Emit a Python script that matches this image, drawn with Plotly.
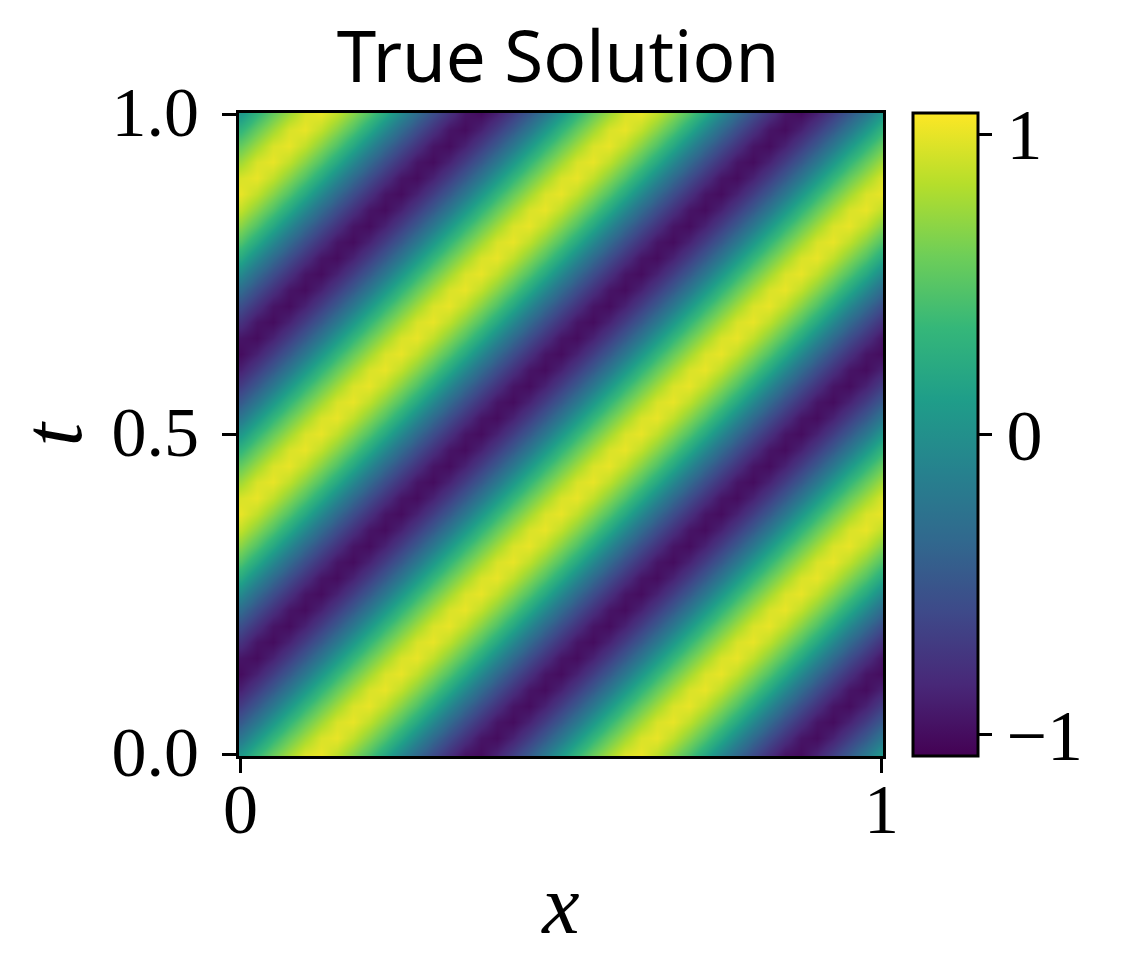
import plotly.graph_objects as go

# grid, every 0.025 in x and t
x_values = [0.0, 0.025, 0.05, 0.075, 0.1, 0.125, 0.15, 0.175, 0.2, 0.225, 0.25, 0.275, 0.3, 0.325, 0.35, 0.375, 0.4, 0.425, 0.45, 0.475, 0.5, 0.525, 0.55, 0.575, 0.6, 0.625, 0.65, 0.675, 0.7, 0.725, 0.75, 0.775, 0.8, 0.825, 0.85, 0.875, 0.9, 0.925, 0.95, 0.975, 1.0]
t_values = [0.0, 0.025, 0.05, 0.075, 0.1, 0.125, 0.15, 0.175, 0.2, 0.225, 0.25, 0.275, 0.3, 0.325, 0.35, 0.375, 0.4, 0.425, 0.45, 0.475, 0.5, 0.525, 0.55, 0.575, 0.6, 0.625, 0.65, 0.675, 0.7, 0.725, 0.75, 0.775, 0.8, 0.825, 0.85, 0.875, 0.9, 0.925, 0.95, 0.975, 1.0]

# one row per t, bottom to top
solution = [
    [.06, .33, .56, .76, .95, 1.0, .87, .68, .47, .22, -.06, -.33, -.56, -.76, -.95, -1.0, -.87, -.68, -.47, -.22, .06, .33, .56, .76, .95, 1.0, .87, .68, .47, .22, -.06, -.33, -.56, -.76, -.95, -1.0, -.87, -.68, -.47, -.22, .06],
    [-.22, .06, .33, .56, .76, .95, 1.0, .87, .68, .47, .22, -.06, -.33, -.56, -.76, -.95, -1.0, -.87, -.68, -.47, -.22, .06, .33, .56, .76, .95, 1.0, .87, .68, .47, .22, -.06, -.33, -.56, -.76, -.95, -1.0, -.87, -.68, -.47, -.22],
    [-.47, -.22, .06, .33, .56, .76, .95, 1.0, .87, .68, .47, .22, -.06, -.33, -.56, -.76, -.95, -1.0, -.87, -.68, -.47, -.22, .06, .33, .56, .76, .95, 1.0, .87, .68, .47, .22, -.06, -.33, -.56, -.76, -.95, -1.0, -.87, -.68, -.47],
    [-.68, -.47, -.22, .06, .33, .56, .76, .95, 1.0, .87, .68, .47, .22, -.06, -.33, -.56, -.76, -.95, -1.0, -.87, -.68, -.47, -.22, .06, .33, .56, .76, .95, 1.0, .87, .68, .47, .22, -.06, -.33, -.56, -.76, -.95, -1.0, -.87, -.68],
    [-.87, -.68, -.47, -.22, .06, .33, .56, .76, .95, 1.0, .87, .68, .47, .22, -.06, -.33, -.56, -.76, -.95, -1.0, -.87, -.68, -.47, -.22, .06, .33, .56, .76, .95, 1.0, .87, .68, .47, .22, -.06, -.33, -.56, -.76, -.95, -1.0, -.87],
    [-1.0, -.87, -.68, -.47, -.22, .06, .33, .56, .76, .95, 1.0, .87, .68, .47, .22, -.06, -.33, -.56, -.76, -.95, -1.0, -.87, -.68, -.47, -.22, .06, .33, .56, .76, .95, 1.0, .87, .68, .47, .22, -.06, -.33, -.56, -.76, -.95, -1.0],
    [-.95, -1.0, -.87, -.68, -.47, -.22, .06, .33, .56, .76, .95, 1.0, .87, .68, .47, .22, -.06, -.33, -.56, -.76, -.95, -1.0, -.87, -.68, -.47, -.22, .06, .33, .56, .76, .95, 1.0, .87, .68, .47, .22, -.06, -.33, -.56, -.76, -.95],
    [-.76, -.95, -1.0, -.87, -.68, -.47, -.22, .06, .33, .56, .76, .95, 1.0, .87, .68, .47, .22, -.06, -.33, -.56, -.76, -.95, -1.0, -.87, -.68, -.47, -.22, .06, .33, .56, .76, .95, 1.0, .87, .68, .47, .22, -.06, -.33, -.56, -.76],
    [-.56, -.76, -.95, -1.0, -.87, -.68, -.47, -.22, .06, .33, .56, .76, .95, 1.0, .87, .68, .47, .22, -.06, -.33, -.56, -.76, -.95, -1.0, -.87, -.68, -.47, -.22, .06, .33, .56, .76, .95, 1.0, .87, .68, .47, .22, -.06, -.33, -.56],
    [-.33, -.56, -.76, -.95, -1.0, -.87, -.68, -.47, -.22, .06, .33, .56, .76, .95, 1.0, .87, .68, .47, .22, -.06, -.33, -.56, -.76, -.95, -1.0, -.87, -.68, -.47, -.22, .06, .33, .56, .76, .95, 1.0, .87, .68, .47, .22, -.06, -.33],
    [-.06, -.33, -.56, -.76, -.95, -1.0, -.87, -.68, -.47, -.22, .06, .33, .56, .76, .95, 1.0, .87, .68, .47, .22, -.06, -.33, -.56, -.76, -.95, -1.0, -.87, -.68, -.47, -.22, .06, .33, .56, .76, .95, 1.0, .87, .68, .47, .22, -.06],
    [.22, -.06, -.33, -.56, -.76, -.95, -1.0, -.87, -.68, -.47, -.22, .06, .33, .56, .76, .95, 1.0, .87, .68, .47, .22, -.06, -.33, -.56, -.76, -.95, -1.0, -.87, -.68, -.47, -.22, .06, .33, .56, .76, .95, 1.0, .87, .68, .47, .22],
    [.47, .22, -.06, -.33, -.56, -.76, -.95, -1.0, -.87, -.68, -.47, -.22, .06, .33, .56, .76, .95, 1.0, .87, .68, .47, .22, -.06, -.33, -.56, -.76, -.95, -1.0, -.87, -.68, -.47, -.22, .06, .33, .56, .76, .95, 1.0, .87, .68, .47],
    [.68, .47, .22, -.06, -.33, -.56, -.76, -.95, -1.0, -.87, -.68, -.47, -.22, .06, .33, .56, .76, .95, 1.0, .87, .68, .47, .22, -.06, -.33, -.56, -.76, -.95, -1.0, -.87, -.68, -.47, -.22, .06, .33, .56, .76, .95, 1.0, .87, .68],
    [.87, .68, .47, .22, -.06, -.33, -.56, -.76, -.95, -1.0, -.87, -.68, -.47, -.22, .06, .33, .56, .76, .95, 1.0, .87, .68, .47, .22, -.06, -.33, -.56, -.76, -.95, -1.0, -.87, -.68, -.47, -.22, .06, .33, .56, .76, .95, 1.0, .87],
    [1.0, .87, .68, .47, .22, -.06, -.33, -.56, -.76, -.95, -1.0, -.87, -.68, -.47, -.22, .06, .33, .56, .76, .95, 1.0, .87, .68, .47, .22, -.06, -.33, -.56, -.76, -.95, -1.0, -.87, -.68, -.47, -.22, .06, .33, .56, .76, .95, 1.0],
    [.95, 1.0, .87, .68, .47, .22, -.06, -.33, -.56, -.76, -.95, -1.0, -.87, -.68, -.47, -.22, .06, .33, .56, .76, .95, 1.0, .87, .68, .47, .22, -.06, -.33, -.56, -.76, -.95, -1.0, -.87, -.68, -.47, -.22, .06, .33, .56, .76, .95],
    [.76, .95, 1.0, .87, .68, .47, .22, -.06, -.33, -.56, -.76, -.95, -1.0, -.87, -.68, -.47, -.22, .06, .33, .56, .76, .95, 1.0, .87, .68, .47, .22, -.06, -.33, -.56, -.76, -.95, -1.0, -.87, -.68, -.47, -.22, .06, .33, .56, .76],
    [.56, .76, .95, 1.0, .87, .68, .47, .22, -.06, -.33, -.56, -.76, -.95, -1.0, -.87, -.68, -.47, -.22, .06, .33, .56, .76, .95, 1.0, .87, .68, .47, .22, -.06, -.33, -.56, -.76, -.95, -1.0, -.87, -.68, -.47, -.22, .06, .33, .56],
    [.33, .56, .76, .95, 1.0, .87, .68, .47, .22, -.06, -.33, -.56, -.76, -.95, -1.0, -.87, -.68, -.47, -.22, .06, .33, .56, .76, .95, 1.0, .87, .68, .47, .22, -.06, -.33, -.56, -.76, -.95, -1.0, -.87, -.68, -.47, -.22, .06, .33],
    [.06, .33, .56, .76, .95, 1.0, .87, .68, .47, .22, -.06, -.33, -.56, -.76, -.95, -1.0, -.87, -.68, -.47, -.22, .06, .33, .56, .76, .95, 1.0, .87, .68, .47, .22, -.06, -.33, -.56, -.76, -.95, -1.0, -.87, -.68, -.47, -.22, .06],
    [-.22, .06, .33, .56, .76, .95, 1.0, .87, .68, .47, .22, -.06, -.33, -.56, -.76, -.95, -1.0, -.87, -.68, -.47, -.22, .06, .33, .56, .76, .95, 1.0, .87, .68, .47, .22, -.06, -.33, -.56, -.76, -.95, -1.0, -.87, -.68, -.47, -.22],
    [-.47, -.22, .06, .33, .56, .76, .95, 1.0, .87, .68, .47, .22, -.06, -.33, -.56, -.76, -.95, -1.0, -.87, -.68, -.47, -.22, .06, .33, .56, .76, .95, 1.0, .87, .68, .47, .22, -.06, -.33, -.56, -.76, -.95, -1.0, -.87, -.68, -.47],
    [-.68, -.47, -.22, .06, .33, .56, .76, .95, 1.0, .87, .68, .47, .22, -.06, -.33, -.56, -.76, -.95, -1.0, -.87, -.68, -.47, -.22, .06, .33, .56, .76, .95, 1.0, .87, .68, .47, .22, -.06, -.33, -.56, -.76, -.95, -1.0, -.87, -.68],
    [-.87, -.68, -.47, -.22, .06, .33, .56, .76, .95, 1.0, .87, .68, .47, .22, -.06, -.33, -.56, -.76, -.95, -1.0, -.87, -.68, -.47, -.22, .06, .33, .56, .76, .95, 1.0, .87, .68, .47, .22, -.06, -.33, -.56, -.76, -.95, -1.0, -.87],
    [-1.0, -.87, -.68, -.47, -.22, .06, .33, .56, .76, .95, 1.0, .87, .68, .47, .22, -.06, -.33, -.56, -.76, -.95, -1.0, -.87, -.68, -.47, -.22, .06, .33, .56, .76, .95, 1.0, .87, .68, .47, .22, -.06, -.33, -.56, -.76, -.95, -1.0],
    [-.95, -1.0, -.87, -.68, -.47, -.22, .06, .33, .56, .76, .95, 1.0, .87, .68, .47, .22, -.06, -.33, -.56, -.76, -.95, -1.0, -.87, -.68, -.47, -.22, .06, .33, .56, .76, .95, 1.0, .87, .68, .47, .22, -.06, -.33, -.56, -.76, -.95],
    [-.76, -.95, -1.0, -.87, -.68, -.47, -.22, .06, .33, .56, .76, .95, 1.0, .87, .68, .47, .22, -.06, -.33, -.56, -.76, -.95, -1.0, -.87, -.68, -.47, -.22, .06, .33, .56, .76, .95, 1.0, .87, .68, .47, .22, -.06, -.33, -.56, -.76],
    [-.56, -.76, -.95, -1.0, -.87, -.68, -.47, -.22, .06, .33, .56, .76, .95, 1.0, .87, .68, .47, .22, -.06, -.33, -.56, -.76, -.95, -1.0, -.87, -.68, -.47, -.22, .06, .33, .56, .76, .95, 1.0, .87, .68, .47, .22, -.06, -.33, -.56],
    [-.33, -.56, -.76, -.95, -1.0, -.87, -.68, -.47, -.22, .06, .33, .56, .76, .95, 1.0, .87, .68, .47, .22, -.06, -.33, -.56, -.76, -.95, -1.0, -.87, -.68, -.47, -.22, .06, .33, .56, .76, .95, 1.0, .87, .68, .47, .22, -.06, -.33],
    [-.06, -.33, -.56, -.76, -.95, -1.0, -.87, -.68, -.47, -.22, .06, .33, .56, .76, .95, 1.0, .87, .68, .47, .22, -.06, -.33, -.56, -.76, -.95, -1.0, -.87, -.68, -.47, -.22, .06, .33, .56, .76, .95, 1.0, .87, .68, .47, .22, -.06],
    [.22, -.06, -.33, -.56, -.76, -.95, -1.0, -.87, -.68, -.47, -.22, .06, .33, .56, .76, .95, 1.0, .87, .68, .47, .22, -.06, -.33, -.56, -.76, -.95, -1.0, -.87, -.68, -.47, -.22, .06, .33, .56, .76, .95, 1.0, .87, .68, .47, .22],
    [.47, .22, -.06, -.33, -.56, -.76, -.95, -1.0, -.87, -.68, -.47, -.22, .06, .33, .56, .76, .95, 1.0, .87, .68, .47, .22, -.06, -.33, -.56, -.76, -.95, -1.0, -.87, -.68, -.47, -.22, .06, .33, .56, .76, .95, 1.0, .87, .68, .47],
    [.68, .47, .22, -.06, -.33, -.56, -.76, -.95, -1.0, -.87, -.68, -.47, -.22, .06, .33, .56, .76, .95, 1.0, .87, .68, .47, .22, -.06, -.33, -.56, -.76, -.95, -1.0, -.87, -.68, -.47, -.22, .06, .33, .56, .76, .95, 1.0, .87, .68],
    [.87, .68, .47, .22, -.06, -.33, -.56, -.76, -.95, -1.0, -.87, -.68, -.47, -.22, .06, .33, .56, .76, .95, 1.0, .87, .68, .47, .22, -.06, -.33, -.56, -.76, -.95, -1.0, -.87, -.68, -.47, -.22, .06, .33, .56, .76, .95, 1.0, .87],
    [1.0, .87, .68, .47, .22, -.06, -.33, -.56, -.76, -.95, -1.0, -.87, -.68, -.47, -.22, .06, .33, .56, .76, .95, 1.0, .87, .68, .47, .22, -.06, -.33, -.56, -.76, -.95, -1.0, -.87, -.68, -.47, -.22, .06, .33, .56, .76, .95, 1.0],
    [.95, 1.0, .87, .68, .47, .22, -.06, -.33, -.56, -.76, -.95, -1.0, -.87, -.68, -.47, -.22, .06, .33, .56, .76, .95, 1.0, .87, .68, .47, .22, -.06, -.33, -.56, -.76, -.95, -1.0, -.87, -.68, -.47, -.22, .06, .33, .56, .76, .95],
    [.76, .95, 1.0, .87, .68, .47, .22, -.06, -.33, -.56, -.76, -.95, -1.0, -.87, -.68, -.47, -.22, .06, .33, .56, .76, .95, 1.0, .87, .68, .47, .22, -.06, -.33, -.56, -.76, -.95, -1.0, -.87, -.68, -.47, -.22, .06, .33, .56, .76],
    [.56, .76, .95, 1.0, .87, .68, .47, .22, -.06, -.33, -.56, -.76, -.95, -1.0, -.87, -.68, -.47, -.22, .06, .33, .56, .76, .95, 1.0, .87, .68, .47, .22, -.06, -.33, -.56, -.76, -.95, -1.0, -.87, -.68, -.47, -.22, .06, .33, .56],
    [.33, .56, .76, .95, 1.0, .87, .68, .47, .22, -.06, -.33, -.56, -.76, -.95, -1.0, -.87, -.68, -.47, -.22, .06, .33, .56, .76, .95, 1.0, .87, .68, .47, .22, -.06, -.33, -.56, -.76, -.95, -1.0, -.87, -.68, -.47, -.22, .06, .33],
    [.06, .33, .56, .76, .95, 1.0, .87, .68, .47, .22, -.06, -.33, -.56, -.76, -.95, -1.0, -.87, -.68, -.47, -.22, .06, .33, .56, .76, .95, 1.0, .87, .68, .47, .22, -.06, -.33, -.56, -.76, -.95, -1.0, -.87, -.68, -.47, -.22, .06],
]

W = 1129
H = 973
serif = "Liberation Serif"

heat = go.Heatmap(
    x=x_values,
    y=t_values,
    z=solution,
    zmin=-1.07,
    zmax=1.07,
    zsmooth="best",
    colorscale="Viridis",
    colorbar=dict(
        x=913 / W,
        xanchor="left",
        xpad=0,
        y=1 - 756 / H,
        yanchor="bottom",
        ypad=0,
        len=643 / H,
        thickness=65,
        outlinewidth=3,
        outlinecolor="black",
        tickmode="array",
        tickvals=[-1, 0, 1],
        ticktext=["\u22121", "0", "1"],
        ticks="outside",
        ticklen=13,
        tickwidth=3,
        tickcolor="black",
        tickfont=dict(family=serif, size=72, color="black"),
    ),
)

fig = go.Figure(data=[heat])
fig.update_layout(
    width=W,
    height=H,
    margin=dict(l=0, r=0, t=0, b=0, autoexpand=False),
    paper_bgcolor="white",
    plot_bgcolor="white",
    title=dict(
        text="True Solution",
        x=558 / W,
        xanchor="center",
        y=1 - 57 / H,
        yanchor="middle",
        font=dict(family="Noto Sans", size=71, color="black"),
    ),
)
fig.update_xaxes(
    domain=[239 / W, 883 / W],
    range=[-0.0025, 1.0023],
    tickmode="array",
    tickvals=[0, 1],
    ticktext=["0", "1"],
    ticks="outside",
    ticklen=14,
    tickwidth=3,
    tickcolor="black",
    tickfont=dict(family=serif, size=70, color="black"),
    ticklabelstandoff=-24,
    showline=True,
    linecolor="black",
    linewidth=3,
    mirror=True,
    showgrid=False,
    zeroline=False,
    automargin=False,
    title=dict(text="<i>x</i>", standoff=28, font=dict(family=serif, size=84, color="black")),
)
fig.update_yaxes(
    domain=[1 - 756 / H, 1 - 113 / H],
    range=[-0.0025, 1.0023],
    tickmode="array",
    tickvals=[0, 0.5, 1],
    ticktext=["0.0", "0.5", "1.0"],
    ticks="outside",
    ticklen=14,
    tickwidth=3,
    tickcolor="black",
    tickfont=dict(family=serif, size=70, color="black"),
    ticklabelstandoff=9,
    ticklabelshift=-3,
    showline=True,
    linecolor="black",
    linewidth=3,
    mirror=True,
    showgrid=False,
    zeroline=False,
    automargin=False,
    title=dict(text="<i>t</i>", standoff=3, font=dict(family=serif, size=84, color="black")),
)
fig.write_html("out.html", config=dict(displayModeBar=False), post_script="document.body.style.margin='0';")
